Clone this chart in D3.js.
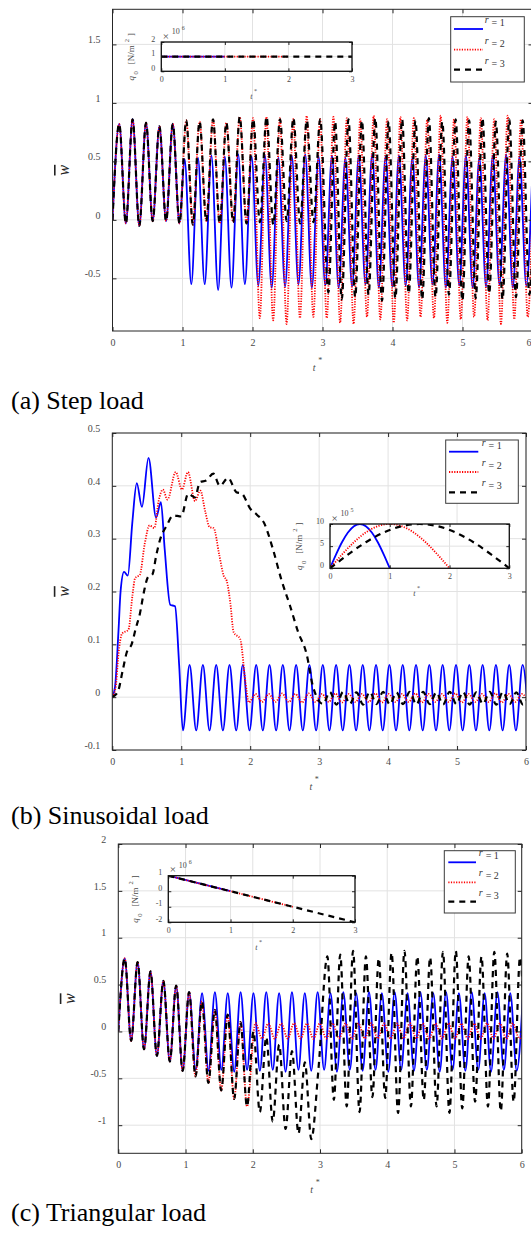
<!DOCTYPE html>
<html>
<head>
<meta charset="utf-8">
<script src="https://cdn.jsdelivr.net/npm/d3@7"></script>
<style>
  body { margin: 0; background: #fff; }
  svg { display: block; }
  text { font-family: "Liberation Serif", "Times New Roman", serif; }
</style>
</head>
<body>
<svg id="fig" width="531" height="1234"></svg>
<script>
// ---------------------------------------------------------------------------
// Tick values and labels
// ---------------------------------------------------------------------------
const tTicks = [0, 1, 2, 3, 4, 5, 6];
const stepTicksW = [-0.5, 0, 0.5, 1, 1.5];
const sineTicksW = [-0.1, 0, 0.1, 0.2, 0.3, 0.4, 0.5];
const triTicksW = [-1, -0.5, 0, 0.5, 1, 1.5, 2];
const insetTicksT = [0, 1, 2, 3];
const stepTicksQ = [0, 1, 2];
const sineTicksQ = [0, 5, 10];
const triTicksQ = [-2, -1, 0, 1];
const durations = [1, 2, 3];           // load duration r
const captions = ["(a) Step load", "(b) Sinusoidal load", "(c) Triangular load"];

// ---------------------------------------------------------------------------
// (a) Step load: response extrema [t*, w̄]. The loaded part is shared by all
// cases until the load is released at t* = r, then free vibration follows.
// ---------------------------------------------------------------------------
const stepLoaded = [[0,0],[0.096,0.82],[0.191,-0.03],[0.287,0.86],[0.383,-0.05],[0.479,0.83],[0.574,-0.01],[0.670,0.80],[0.766,-0.01],[0.861,0.82],[0.957,-0.03],[1.053,0.85],[1.148,-0.04],[1.244,0.84],[1.340,-0.01],[1.436,0.86],[1.531,-0.03],[1.627,0.83],[1.723,-0.02],[1.818,0.88],[1.914,-0.03],[2.010,0.86],[2.105,-0.02],[2.201,0.88],[2.297,-0.04],[2.393,0.86],[2.488,-0.01],[2.584,0.87],[2.680,-0.03],[2.775,0.85],[2.871,-0.02],[2.967,0.86]];
const stepFreeR1 = [[1.030,0.52],[1.126,-0.55],[1.221,0.53],[1.317,-0.55],[1.413,0.55],[1.509,-0.60],[1.604,0.54],[1.700,-0.58],[1.796,0.56],[1.891,-0.55],[1.987,0.54],[2.083,-0.56],[2.178,0.55],[2.274,-0.58],[2.370,0.53],[2.466,-0.57],[2.561,0.55],[2.657,-0.55],[2.753,0.56],[2.848,-0.58],[2.944,0.54],[3.040,-0.56],[3.135,0.55],[3.231,-0.58],[3.327,0.53],[3.423,-0.57],[3.518,0.55],[3.614,-0.55],[3.710,0.56],[3.805,-0.58],[3.901,0.54],[3.997,-0.57],[4.092,0.55],[4.188,-0.56],[4.284,0.53],[4.380,-0.58],[4.475,0.55],[4.571,-0.55],[4.667,0.56],[4.762,-0.58],[4.858,0.54],[4.954,-0.56],[5.049,0.55],[5.145,-0.58],[5.241,0.53],[5.337,-0.57],[5.432,0.55],[5.528,-0.55],[5.624,0.56],[5.719,-0.58],[5.815,0.54],[5.911,-0.56],[6.006,0.55]];
const stepFreeR2 = [[2.008,0.87],[2.104,-0.84],[2.199,0.88],[2.295,-0.86],[2.391,0.87],[2.487,-0.89],[2.582,0.86],[2.678,-0.84],[2.774,0.89],[2.869,-0.83],[2.965,0.86],[3.061,-0.84],[3.156,0.88],[3.252,-0.88],[3.348,0.87],[3.444,-0.89],[3.539,0.86],[3.635,-0.83],[3.731,0.89],[3.826,-0.85],[3.922,0.86],[4.018,-0.88],[4.113,0.88],[4.209,-0.86],[4.305,0.87],[4.401,-0.83],[4.496,0.86],[4.592,-0.84],[4.688,0.89],[4.783,-0.88],[4.879,0.86],[4.975,-0.85],[5.070,0.88],[5.166,-0.83],[5.262,0.87],[5.358,-0.86],[5.453,0.86],[5.549,-0.89],[5.645,0.89],[5.740,-0.85],[5.836,0.86],[5.932,-0.83],[6.027,0.88]];
const stepFreeR3 = [[3.084,-0.62],[3.180,0.84],[3.275,-0.68],[3.371,0.86],[3.467,-0.66],[3.563,0.85],[3.658,-0.64],[3.754,0.87],[3.850,-0.69],[3.945,0.84],[4.041,-0.67],[4.137,0.86],[4.232,-0.63],[4.328,0.85],[4.424,-0.68],[4.520,0.87],[4.615,-0.66],[4.711,0.84],[4.807,-0.64],[4.902,0.86],[4.998,-0.69],[5.094,0.85],[5.189,-0.67],[5.285,0.87],[5.381,-0.63],[5.477,0.84],[5.572,-0.68],[5.668,0.86],[5.764,-0.66],[5.859,0.85],[5.955,-0.64],[6.051,0.86]];

// ---------------------------------------------------------------------------
// (b) Sinusoidal load: response points [t*, w̄] for r = 1, 2, 3
// ---------------------------------------------------------------------------
const sineR1 = [[0,0],[0.04,0.02],[0.09,0.126],[0.12,0.2],[0.17,0.237],[0.225,0.23],[0.29,0.33],[0.355,0.405],[0.43,0.36],[0.525,0.453],[0.635,0.34],[0.705,0.369],[0.76,0.28],[0.84,0.175],[0.91,0.172],[0.97,0.06],[1.024,-0.063],[1.121,0.061],[1.217,-0.063],[1.314,0.061],[1.410,-0.063],[1.507,0.061],[1.604,-0.063],[1.700,0.061],[1.797,-0.063],[1.893,0.061],[1.990,-0.063],[2.087,0.061],[2.183,-0.063],[2.280,0.061],[2.376,-0.063],[2.473,0.061],[2.570,-0.063],[2.666,0.061],[2.763,-0.063],[2.859,0.061],[2.956,-0.063],[3.053,0.061],[3.149,-0.063],[3.246,0.061],[3.342,-0.063],[3.439,0.061],[3.536,-0.063],[3.632,0.061],[3.729,-0.063],[3.825,0.061],[3.922,-0.063],[4.019,0.061],[4.115,-0.063],[4.212,0.061],[4.308,-0.063],[4.405,0.061],[4.502,-0.063],[4.598,0.061],[4.695,-0.063],[4.791,0.061],[4.888,-0.063],[4.985,0.061],[5.081,-0.063],[5.178,0.061],[5.274,-0.063],[5.371,0.061],[5.468,-0.063],[5.564,0.061],[5.661,-0.063],[5.757,0.061],[5.854,-0.063],[5.951,0.061],[6.047,-0.063]];
const sineR2 = [[0,0],[0.05,0.02],[0.09,0.082],[0.14,0.12],[0.235,0.128],[0.29,0.19],[0.33,0.225],[0.4,0.232],[0.47,0.29],[0.54,0.325],[0.61,0.32],[0.67,0.37],[0.733,0.393],[0.8,0.374],[0.92,0.426],[1.01,0.393],[1.097,0.426],[1.2,0.371],[1.276,0.391],[1.35,0.35],[1.41,0.322],[1.47,0.32],[1.55,0.27],[1.615,0.23],[1.66,0.22],[1.71,0.18],[1.76,0.123],[1.855,0.11],[1.93,0.03],[1.98,-0.01],[2.077,0.006],[2.173,-0.009],[2.270,0.006],[2.366,-0.009],[2.463,0.007],[2.560,-0.009],[2.656,0.006],[2.753,-0.010],[2.849,0.007],[2.946,-0.009],[3.043,0.006],[3.139,-0.009],[3.236,0.007],[3.332,-0.010],[3.429,0.006],[3.526,-0.009],[3.622,0.006],[3.719,-0.009],[3.815,0.007],[3.912,-0.010],[4.009,0.006],[4.105,-0.009],[4.202,0.006],[4.298,-0.009],[4.395,0.007],[4.492,-0.010],[4.588,0.006],[4.685,-0.009],[4.781,0.006],[4.878,-0.009],[4.975,0.007],[5.071,-0.010],[5.168,0.006],[5.264,-0.009],[5.361,0.006],[5.458,-0.009],[5.554,0.007],[5.651,-0.010],[5.747,0.006],[5.844,-0.009],[5.941,0.006],[6.037,-0.009]];
const sineR3 = [[0,0],[0.08,0.01],[0.15,0.05],[0.21,0.085],[0.28,0.10],[0.34,0.13],[0.4,0.158],[0.46,0.2],[0.52,0.228],[0.58,0.232],[0.64,0.27],[0.69,0.297],[0.79,0.325],[0.885,0.344],[1.0,0.342],[1.1,0.385],[1.2,0.378],[1.27,0.407],[1.36,0.41],[1.465,0.423],[1.56,0.40],[1.68,0.415],[1.8,0.388],[1.88,0.385],[2.0,0.357],[2.1,0.345],[2.2,0.33],[2.33,0.28],[2.455,0.221],[2.575,0.174],[2.696,0.123],[2.817,0.082],[2.913,0.019],[3.058,-0.013],[3.155,0.010],[3.251,-0.014],[3.348,0.010],[3.444,-0.013],[3.541,0.009],[3.638,-0.014],[3.734,0.010],[3.831,-0.013],[3.927,0.010],[4.024,-0.014],[4.121,0.009],[4.217,-0.013],[4.314,0.010],[4.410,-0.014],[4.507,0.010],[4.604,-0.013],[4.700,0.009],[4.797,-0.014],[4.893,0.010],[4.990,-0.013],[5.087,0.010],[5.183,-0.014],[5.280,0.009],[5.376,-0.013],[5.473,0.010],[5.570,-0.014],[5.666,0.010],[5.763,-0.013],[5.859,0.009],[5.956,-0.014],[6.053,0.010]];

// ---------------------------------------------------------------------------
// (c) Triangular load: loaded part shared until t* = r, then free vibration
// ---------------------------------------------------------------------------
const triLoaded = [[0,0],[0.096,0.78],[0.191,-0.10],[0.287,0.74],[0.383,-0.19],[0.479,0.64],[0.574,-0.26],[0.670,0.54],[0.766,-0.32],[0.861,0.49],[0.957,-0.42],[1.053,0.42],[1.148,-0.48],[1.244,0.32],[1.340,-0.55],[1.436,0.23],[1.531,-0.63],[1.627,0.18],[1.723,-0.72],[1.818,0.10],[1.914,-0.80],[2.010,0.00],[2.105,-0.86],[2.201,-0.06],[2.297,-0.96],[2.393,-0.14],[2.488,-1.04],[2.584,-0.21],[2.680,-1.09],[2.775,-0.33],[2.871,-1.15],[2.975,-0.42]];
const triFreeR1 = [[1.055,0.42],[1.151,-0.41],[1.246,0.41],[1.342,-0.42],[1.437,0.42],[1.533,-0.41],[1.628,0.41],[1.724,-0.43],[1.819,0.42],[1.915,-0.41],[2.010,0.41],[2.106,-0.42],[2.201,0.42],[2.297,-0.41],[2.392,0.41],[2.488,-0.43],[2.583,0.42],[2.679,-0.41],[2.774,0.41],[2.870,-0.42],[2.965,0.42],[3.061,-0.41],[3.156,0.41],[3.252,-0.43],[3.347,0.42],[3.443,-0.41],[3.538,0.41],[3.634,-0.42],[3.729,0.42],[3.825,-0.41],[3.920,0.41],[4.016,-0.43],[4.111,0.42],[4.207,-0.41],[4.302,0.41],[4.398,-0.42],[4.493,0.42],[4.589,-0.41],[4.684,0.41],[4.780,-0.43],[4.875,0.42],[4.971,-0.41],[5.066,0.41],[5.162,-0.42],[5.257,0.42],[5.353,-0.41],[5.448,0.41],[5.544,-0.43],[5.639,0.42],[5.735,-0.41],[5.830,0.41],[5.926,-0.42],[6.021,0.42]];
const triFreeR2 = [[2.040,0.09],[2.136,-0.075],[2.231,0.085],[2.327,-0.078],[2.423,0.085],[2.519,-0.075],[2.614,0.088],[2.710,-0.075],[2.806,0.085],[2.901,-0.078],[2.997,0.085],[3.093,-0.075],[3.188,0.088],[3.284,-0.075],[3.380,0.085],[3.476,-0.078],[3.571,0.085],[3.667,-0.075],[3.763,0.088],[3.858,-0.075],[3.954,0.085],[4.050,-0.078],[4.145,0.085],[4.241,-0.075],[4.337,0.088],[4.433,-0.075],[4.528,0.085],[4.624,-0.078],[4.720,0.085],[4.815,-0.075],[4.911,0.088],[5.007,-0.075],[5.102,0.085],[5.198,-0.078],[5.294,0.085],[5.390,-0.075],[5.485,0.088],[5.581,-0.075],[5.677,0.085],[5.772,-0.078],[5.868,0.085],[5.964,-0.075],[6.059,0.088]];
const triFreeR3 = [[3.110,0.80],[3.206,-0.73],[3.301,0.82],[3.397,-0.80],[3.492,0.86],[3.588,-0.86],[3.683,0.80],[3.779,-0.70],[3.874,0.78],[3.970,-0.71],[4.065,0.84],[4.161,-0.87],[4.256,0.86],[4.352,-0.80],[4.447,0.80],[4.543,-0.73],[4.638,0.79],[4.734,-0.80],[4.829,0.85],[4.925,-0.87],[5.020,0.86],[5.116,-0.82],[5.211,0.80],[5.307,-0.75],[5.402,0.80],[5.498,-0.80],[5.593,0.85],[5.689,-0.85],[5.784,0.83],[5.880,-0.75],[5.975,0.79],[6.071,-0.78]];

// ---------------------------------------------------------------------------
// Load histories q0(t*) shown in the insets (in units of the axis multiplier)
// ---------------------------------------------------------------------------
const stepQ1 = [[0,1],[1,1]];
const stepQ2 = [[0,1],[2,1]];
const stepQ3 = [[0,1],[3,1]];
const sineQ1 = [[0,0],[0.1,3.09],[0.2,5.88],[0.3,8.09],[0.4,9.51],[0.5,10],[0.6,9.51],[0.7,8.09],[0.8,5.88],[0.9,3.09],[1,0]];
const sineQ2 = [[0,0],[0.2,3.09],[0.4,5.88],[0.6,8.09],[0.8,9.51],[1,10],[1.2,9.51],[1.4,8.09],[1.6,5.88],[1.8,3.09],[2,0]];
const sineQ3 = [[0,0],[0.3,3.09],[0.6,5.88],[0.9,8.09],[1.2,9.51],[1.5,10],[1.8,9.51],[2.1,8.09],[2.4,5.88],[2.7,3.09],[3,0]];
const triQ1 = [[0,1],[1,0]];
const triQ2 = [[0,1],[2,-1]];
const triQ3 = [[0,1],[3,-2]];

// ---------------------------------------------------------------------------
// Assemble the series for each duration r
// ---------------------------------------------------------------------------
const stepSeries = durations.map((r, i) =>
  stepLoaded.filter(d => d[0] < r).concat([stepFreeR1, stepFreeR2, stepFreeR3][i]));
const sineSeries = [sineR1, sineR2, sineR3];
const triSeries = durations.map((r, i) =>
  triLoaded.filter(d => d[0] < r).concat([triFreeR1, triFreeR2, triFreeR3][i]));

// ---------------------------------------------------------------------------
// Styles
// ---------------------------------------------------------------------------
const lineStyles = [
  { color: "#0000ff", width: 1.8, dash: null },
  { color: "#ff0000", width: 1.8, dash: "1.2,1.4" },
  { color: "#000000", width: 2.2, dash: "6,5" }
];
const axisColor = "#262626";
const gridColor = "#e2e2e2";
const labelColor = "#4a4a4a";
const FIG_W = 531;

const svg = d3.select("#fig");
svg.append("rect").attr("width", FIG_W).attr("height", 1234).attr("fill", "#fff");

function applyStyle(sel, i) {
  sel.attr("fill", "none")
    .attr("stroke", lineStyles[i].color)
    .attr("stroke-width", lineStyles[i].width)
    .attr("stroke-dasharray", lineStyles[i].dash);
}

// Grid, box and inward ticks in the MATLAB look
function drawFrame(g, x, y, xt, yt, b, o) {
  const fmt = d => String(d);
  const style = s => {
    s.select(".domain").remove();
    s.selectAll(".tick line").attr("stroke", axisColor).attr("stroke-width", 1);
    s.selectAll("text").attr("fill", labelColor).attr("font-size", o.fs)
      .attr("font-family", '"Liberation Serif", "Times New Roman", serif');
  };
  const bottom = g.append("g").attr("transform", `translate(0,${b.b})`)
    .call(d3.axisBottom(x).tickValues(xt).tickSizeInner(-o.tick).tickSizeOuter(0).tickPadding(o.padX).tickFormat(fmt))
    .call(style);
  // keep the last label inside the figure when the frame reaches the edge
  bottom.selectAll(".tick").each(function (d) {
    if (x(d) + 3 > FIG_W) {
      d3.select(this).select("text").attr("text-anchor", "end").attr("x", FIG_W - x(d));
    }
  });
  g.append("g").attr("transform", `translate(0,${b.t})`)
    .call(d3.axisTop(x).tickValues(xt).tickSizeInner(-o.tick).tickSizeOuter(0).tickFormat(""))
    .call(style);
  const left = g.append("g").attr("transform", `translate(${b.l},0)`)
    .call(d3.axisLeft(y).tickValues(yt).tickSizeInner(-o.tick).tickSizeOuter(0).tickPadding(o.padY).tickFormat(fmt))
    .call(style);
  left.selectAll("text").attr("y", o.yShift);
  g.append("g").attr("transform", `translate(${b.r},0)`)
    .call(d3.axisRight(y).tickValues(yt).tickSizeInner(-o.tick).tickSizeOuter(0).tickFormat(""))
    .call(style);
  g.append("rect").attr("x", b.l).attr("y", b.t)
    .attr("width", b.r - b.l).attr("height", b.b - b.t)
    .attr("fill", "none").attr("stroke", o.boxColor).attr("stroke-width", o.boxWidth);
}

function drawGrid(g, x, y, xt, yt, b) {
  const gg = g.append("g");
  gg.selectAll("line.v").data(xt).join("line").attr("class", "v")
    .attr("x1", d => x(d)).attr("x2", d => x(d)).attr("y1", b.t).attr("y2", b.b)
    .attr("stroke", gridColor).attr("stroke-width", 1);
  gg.selectAll("line.h").data(yt).join("line").attr("class", "h")
    .attr("x1", b.l).attr("x2", b.r).attr("y1", d => y(d)).attr("y2", d => y(d))
    .attr("stroke", gridColor).attr("stroke-width", 1);
}

function drawCurves(g, x, y, series, b, id) {
  g.append("clipPath").attr("id", id).append("rect")
    .attr("x", b.l).attr("y", b.t).attr("width", b.r - b.l).attr("height", b.b - b.t);
  const line = d3.line().x(d => x(d[0])).y(d => y(d[1])).curve(d3.curveMonotoneX);
  const cg = g.append("g").attr("clip-path", `url(#${id})`);
  series.forEach((s, i) => cg.append("path").datum(s).attr("d", line).call(applyStyle, i));
}

function drawLegend(g, L) {
  const lg = g.append("g").attr("transform", `translate(${L.l},${L.t})`);
  lg.append("rect").attr("width", L.w).attr("height", L.h)
    .attr("fill", "#fff").attr("stroke", "#3a3a3a").attr("stroke-width", 1);
  durations.forEach((r, i) => {
    const yy = L.rows[i];
    lg.append("line").attr("x1", L.x1).attr("x2", L.x2).attr("y1", yy).attr("y2", yy).call(applyStyle, i);
    const t = lg.append("text").attr("x", L.tx).attr("y", yy - 3)
      .attr("font-size", 10).attr("fill", "#333");
    t.append("tspan").attr("font-style", "italic").attr("dy", -3).text("r");
    t.append("tspan").attr("dy", 3).attr("dx", 3).text("= " + r);
  });
}

function drawInset(g, I) {
  const x = d3.scaleLinear().domain([0, 3]).range([I.l, I.r]);
  const y = d3.scaleLinear().domain(I.yDomain).range([I.b, I.t]);
  const b = { l: I.l, r: I.r, t: I.t, b: I.b };
  g.append("rect").attr("x", I.l).attr("y", I.t).attr("width", I.r - I.l).attr("height", I.b - I.t).attr("fill", "#fff");
  drawGrid(g, x, y, insetTicksT, I.yTicks, b);
  drawCurves(g, x, y, I.series, b, I.id);
  drawFrame(g, x, y, insetTicksT, I.yTicks, b,
    { tick: 3, fs: 8, padX: 4.6, padY: 6, yShift: -3.5, boxColor: "#111", boxWidth: 1.3 });
  // axis multiplier
  g.append("text").attr("x", I.l + 4.5).attr("y", I.t - 2.5).attr("text-anchor", "middle")
    .attr("font-size", 11).attr("fill", labelColor).text("\u00d7");
  g.append("text").attr("x", I.l + 10.5).attr("y", I.t - 7.7)
    .attr("font-size", 8).attr("fill", labelColor).text("10");
  g.append("text").attr("x", I.l + 20.5).attr("y", I.t - 12)
    .attr("font-size", 6).attr("fill", labelColor).text(I.exp);
  // t* label
  const xl = g.append("text").attr("x", (I.l + I.r) / 2 - 3).attr("y", I.b + 27.5)
    .attr("font-size", 8).attr("fill", labelColor).attr("text-anchor", "middle");
  xl.append("tspan").attr("font-style", "italic").text("t");
  xl.append("tspan").attr("dy", -6).attr("dx", 1.5).attr("font-size", 6).text("*");
  // q0 label, loosely spaced
  const yl = g.append("text")
    .attr("transform", `translate(${I.l - I.ylOff},${(I.t + I.b) / 2}) rotate(-90)`)
    .attr("text-anchor", "middle").attr("font-size", 9).attr("fill", labelColor);
  yl.append("tspan").attr("font-style", "italic").text("q");
  yl.append("tspan").attr("font-size", 6.5).attr("dy", 3.5).attr("dx", 1.5).text("0");
  yl.append("tspan").attr("dy", -3.5).attr("dx", 7).text("[N/m");
  yl.append("tspan").attr("font-size", 6.5).attr("dy", -5).attr("dx", 3).text("2");
  yl.append("tspan").attr("dy", 5).attr("dx", 3).text("]");
}

function drawPanel(p) {
  const g = svg.append("g");
  const x = d3.scaleLinear().domain([0, 6]).range([p.plot.l, p.plot.r]);
  const y = d3.scaleLinear().domain(p.yDomain).range([p.plot.b, p.plot.t]);
  drawGrid(g, x, y, tTicks, p.yTicks, p.plot);
  drawCurves(g, x, y, p.series, p.plot, "clip-" + p.id);
  drawFrame(g, x, y, tTicks, p.yTicks, p.plot,
    { tick: 4, fs: 10, padX: 7.4, padY: 12, yShift: -5, boxColor: axisColor, boxWidth: 1 });

  // w̄ axis label
  g.append("text")
    .attr("transform", `translate(${p.plot.l - 43.5},${(p.plot.t + p.plot.b) / 2}) rotate(-90)`)
    .attr("text-anchor", "middle").attr("font-size", 16).attr("font-style", "italic")
    .attr("fill", "#222").attr("text-decoration", "overline").text("w");

  // t* axis label
  const xl = g.append("text").attr("x", (p.plot.l + p.plot.r) / 2 - 5).attr("y", p.plot.b + 40)
    .attr("font-size", 10).attr("fill", labelColor).attr("text-anchor", "middle");
  xl.append("tspan").attr("font-style", "italic").text("t");
  xl.append("tspan").attr("dy", -8).attr("dx", 2.5).attr("font-size", 8).text("*");

  drawInset(g, p.inset);
  drawLegend(g, p.legend);

  svg.append("text").attr("x", p.captionX).attr("y", p.captionY)
    .attr("font-size", 26).attr("fill", "#000").text(p.caption);
}

const panels = [
  {
    id: "a", caption: captions[0], captionX: 11, captionY: 409,
    plot: { l: 112.5, r: 532.5, t: 9.3, b: 331 }, yDomain: [-0.95, 1.8], yTicks: stepTicksW,
    series: stepSeries,
    legend: { l: 450.7, t: 16.7, w: 73.6, h: 65.3, rows: [12.3, 33, 53], x1: 3.3, x2: 32.3, tx: 34 },
    inset: { id: "ia", l: 161.3, r: 352, t: 42, b: 71.3, yDomain: [0, 2], yTicks: stepTicksQ, exp: "6",
             series: [stepQ1, stepQ2, stepQ3], ylOff: 27 }
  },
  {
    id: "b", caption: captions[1], captionX: 11, captionY: 824,
    plot: { l: 112.3, r: 526, t: 433, b: 750 }, yDomain: [-0.1, 0.5], yTicks: sineTicksW,
    series: sineSeries,
    legend: { l: 445.7, t: 440, w: 72.6, h: 63.3, rows: [11.7, 32, 52.3], x1: 3.3, x2: 32.6, tx: 36 },
    inset: { id: "ib", l: 330, r: 509.3, t: 524, b: 568.3, yDomain: [0, 10], yTicks: sineTicksQ, exp: "5",
             series: [sineQ1, sineQ2, sineQ3], ylOff: 28 }
  },
  {
    id: "c", caption: captions[2], captionX: 11, captionY: 1221,
    plot: { l: 118.3, r: 521.7, t: 844, b: 1153.3 }, yDomain: [-1.3, 2], yTicks: triTicksW,
    series: triSeries,
    legend: { l: 444.3, t: 850.7, w: 71, h: 62.3, rows: [11.6, 31.6, 51], x1: 4, x2: 31.7, tx: 34.5 },
    inset: { id: "ic", l: 168.3, r: 355, t: 875.7, b: 922.3, yDomain: [-2, 1], yTicks: triTicksQ, exp: "6",
             series: [triQ1, triQ2, triQ3], ylOff: 30 }
  }
];

panels.forEach(drawPanel);
</script>
</body>
</html>
